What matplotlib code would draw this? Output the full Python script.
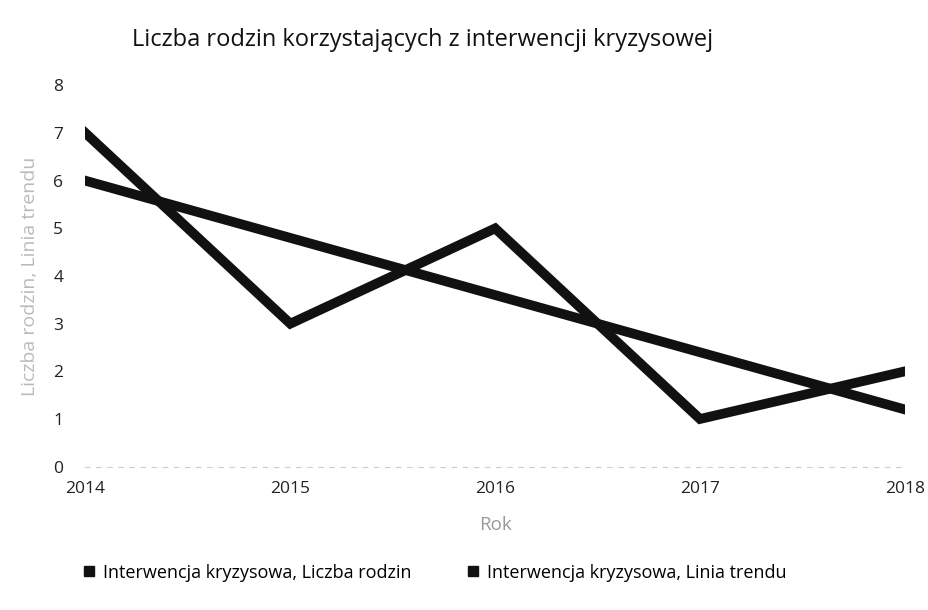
import matplotlib
matplotlib.use("Agg")
import matplotlib.pyplot as plt
from matplotlib.lines import Line2D

plt.rcParams['font.family'] = ['Open Sans', 'DejaVu Sans']

years = [2014, 2015, 2016, 2017, 2018]
families = [7, 3, 5, 1, 2]
trend = [6.0, 4.8, 3.6, 2.4, 1.2]
year_labels = ['2014', '2015', '2016', '2017', '2018']
y_ticks = [0, 1, 2, 3, 4, 5, 6, 7, 8]

title = 'Liczba rodzin korzystających z interwencji kryzysowej'
x_title = 'Rok'
y_title = 'Liczba rodzin, Linia trendu'
legend_labels = ['Interwencja kryzysowa, Liczba rodzin',
                 'Interwencja kryzysowa, Linia trendu']

fig = plt.figure(figsize=(9.29, 6.10), dpi=100)
ax = fig.add_axes([0.092, 0.235, 0.882, 0.625])

ax.plot(years, families, color='#111111', lw=7, solid_joinstyle='miter')
ax.plot(years, trend, color='#111111', lw=7, solid_joinstyle='miter')

ax.set_xlim(2014, 2018)
ax.set_ylim(0, 8)
ax.set_yticks(y_ticks)
ax.set_xticks(years)
ax.set_xticklabels(year_labels)
ax.tick_params(length=0, labelsize=12.5, colors='#222222')
ax.tick_params(axis='y', pad=16)
ax.tick_params(axis='x', pad=10)

for s in ['top', 'right', 'left']:
    ax.spines[s].set_visible(False)
ax.spines['bottom'].set_color('#cccccc')
ax.spines['bottom'].set_linestyle((0, (4, 6)))
ax.spines['bottom'].set_linewidth(0.8)

ax.set_xlabel(x_title, color='#999999', fontsize=13.5, labelpad=14)
ax.set_ylabel(y_title, color='#bbbbbb', fontsize=14, labelpad=10)
fig.text(0.455, 0.935, title, ha='center', va='center', fontsize=17, color='#111111')

handles = [Line2D([], [], ls='none', marker='s', markersize=7, color='#111111')
           for _ in legend_labels]
fig.legend(handles, legend_labels, loc='lower left', ncol=2,
           bbox_to_anchor=(0.07, 0.02), frameon=False, fontsize=13,
           handlelength=0.8, handletextpad=0.4, columnspacing=3.0)

fig.savefig('out.png', dpi=100)
